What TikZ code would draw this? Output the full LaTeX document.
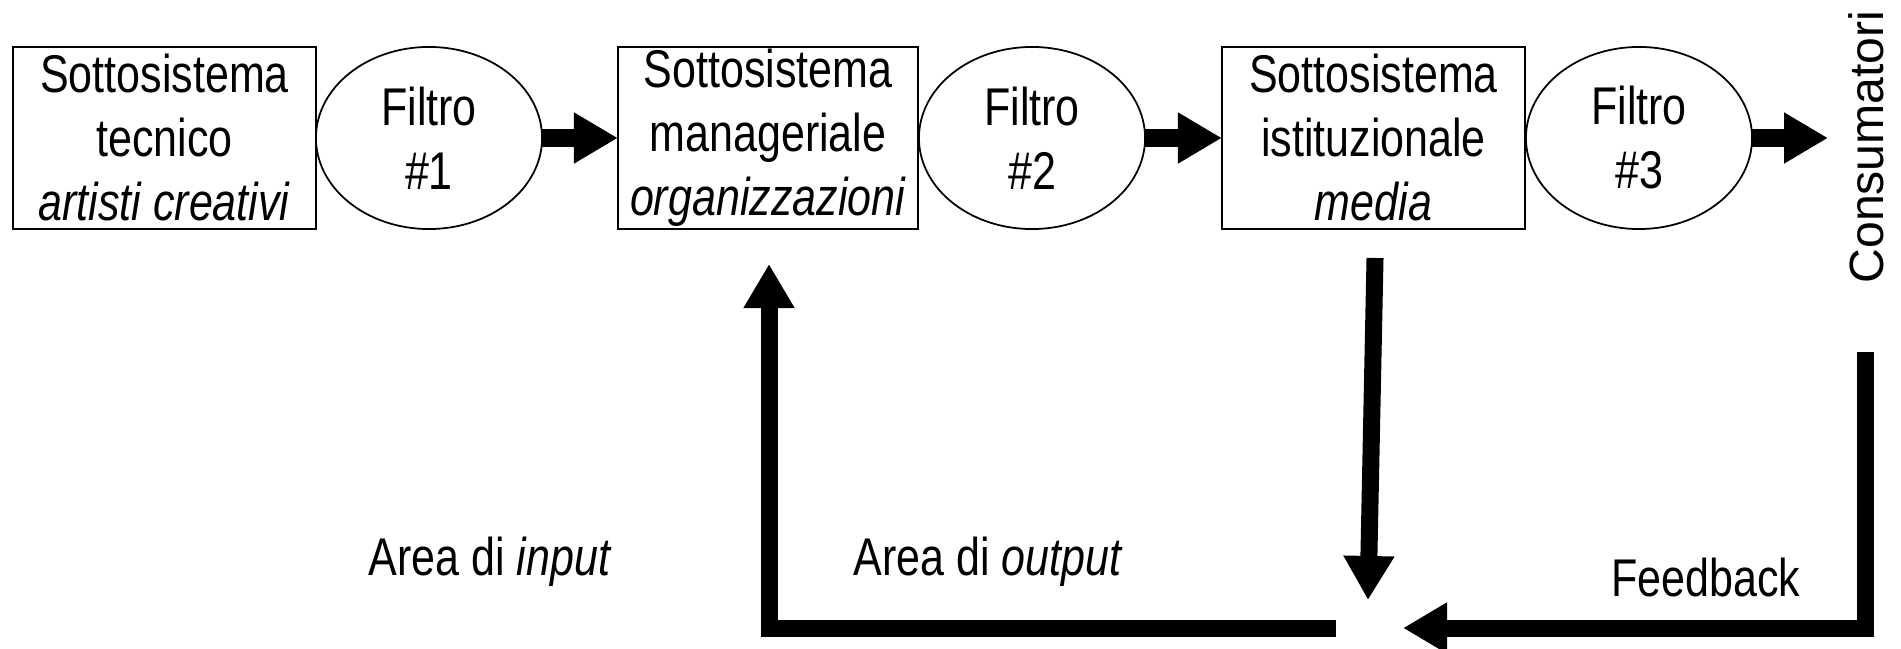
\documentclass[tikz,border=0pt]{standalone}
\usepackage{fontspec}
\setmainfont[FakeStretch=0.81]{Liberation Sans}
\newfontfamily\consfont{Liberation Sans}
\usetikzlibrary{shapes}
\usetikzlibrary{arrows.meta}

\tikzset{
  txt/.style={font=\fontsize{15.1pt}{18.2pt}\selectfont},
  sub/.style={txt, draw, line width=0.5pt, rectangle, minimum width=3.03cm,
    minimum height=1.82cm, inner sep=0pt, outer sep=0pt, align=center},
  filt/.style={txt, draw, line width=0.5pt, ellipse, minimum width=2.26cm,
    minimum height=1.82cm, inner sep=0pt, outer sep=0pt, align=center},
  flow/.style={line width=1.7mm, -{Triangle[length=4.4mm,width=4.8mm]}}
}

\begin{document}
\begin{tikzpicture}[x=0.01cm, y=-0.01cm]
\useasboundingbox (0,0) rectangle (1901,649);
\node[sub] (tec) at (164.5,138) {Sottosistema\\tecnico\\\textit{artisti creativi}};
\node[filt] (f1) at (429,138) {Filtro\\\#1};
\node[sub, minimum width=3cm] (man) at (768,138) {Sottosistema\\manageriale\\\textit{organizzazioni}};
\node[filt] (f2) at (1032,138) {Filtro\\\#2};
\node[sub] (ist) at (1373.5,138) {Sottosistema\\istituzionale\\\textit{media}};
\node[filt] (f3) at (1639,138) {Filtro\\\#3};
\node[rotate=90, font=\consfont\fontsize{13.7pt}{16pt}\selectfont] (cons) at (1866,147) {Consumatori};
\coordinate (c3) at (1828,138);
\draw[flow] (f1.east) -- (man.west);
\draw[flow] (f2.east) -- (ist.west);
\draw[flow] (f3.east) -- (c3);
% output area, back to the managerial subsystem
\coordinate (outend) at (1336,628);
\coordinate (uptip) at (769,264);
\draw[flow] (outend) -- (uptip |- outend) -- (uptip);
% from the media down
\coordinate (dtop) at (1375,258);
\coordinate (meet) at (1368,600);
\draw[flow] (dtop) -- (meet);
% feedback
\coordinate (fbtop) at (1865,352);
\coordinate (fbtip) at (1403,628);
\draw[flow] (fbtop) -- (fbtop |- fbtip) -- (fbtip);
\node[txt] (inp) at (490,562) {Area di \textit{input}};
\node[txt] (outp) at (988,562) {Area di \textit{output}};
\node[txt] (fb) at (1706,578) {Feedback};
\end{tikzpicture}
\end{document}
